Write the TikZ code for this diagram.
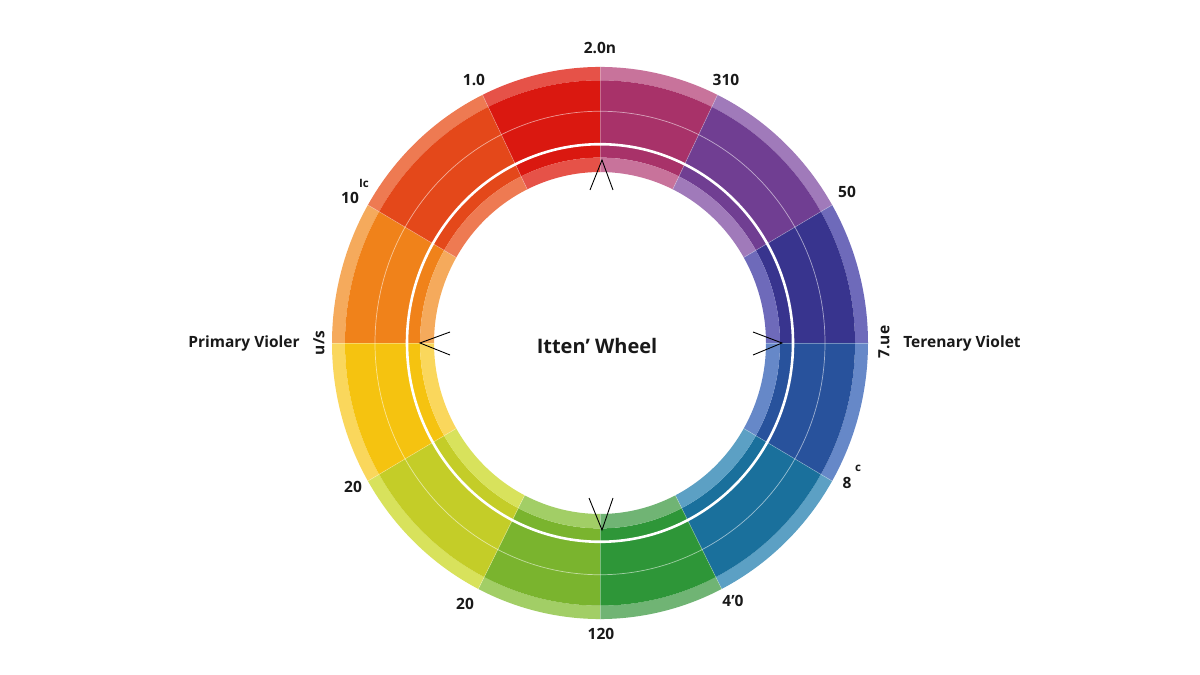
\documentclass[tikz,border=0pt]{standalone}
\usepackage{fontspec}
\setmainfont{Open Sans}
\begin{document}
\begin{tikzpicture}[x=1pt,y=1pt,
  lbl/.style={font=\bfseries\fontsize{15.5}{18}\selectfont, text=black!90, inner sep=0pt},
  sup/.style={font=\bfseries\fontsize{11.5}{13}\selectfont, text=black!90, inner sep=0pt},
  tick/.style={draw=black, line width=0.9pt, line join=miter}]
\definecolor{cRm}{RGB}{218,24,16}   \definecolor{cRl}{RGB}{230,82,72}
\definecolor{cMm}{RGB}{168,50,105}  \definecolor{cMl}{RGB}{200,115,155}
\definecolor{cPm}{RGB}{112,62,146}  \definecolor{cPl}{RGB}{160,122,186}
\definecolor{cVm}{RGB}{56,52,142}   \definecolor{cVl}{RGB}{110,106,186}
\definecolor{cBm}{RGB}{40,82,156}   \definecolor{cBl}{RGB}{102,136,200}
\definecolor{cCm}{RGB}{26,112,156}  \definecolor{cCl}{RGB}{92,160,196}
\definecolor{cGm}{RGB}{46,150,56}   \definecolor{cGl}{RGB}{112,180,116}
\definecolor{cYGm}{RGB}{122,180,46} \definecolor{cYGl}{RGB}{162,206,102}
\definecolor{cLm}{RGB}{196,205,40}  \definecolor{cLl}{RGB}{216,226,92}
\definecolor{cYm}{RGB}{245,195,16}  \definecolor{cYl}{RGB}{250,215,92}
\definecolor{cOm}{RGB}{240,130,26}  \definecolor{cOl}{RGB}{245,170,92}
\definecolor{cROm}{RGB}{228,72,26}  \definecolor{cROl}{RGB}{238,122,82}
\useasboundingbox (0,0) rectangle (1200,675);
\fill[white] (0,0) rectangle (1200,675);
\begin{scope}[shift={(600,332)}, yscale=1.03]
  \foreach \a/\b/\m/\l in {90/64/cMm/cMl, 64/30/cPm/cPl, 30/0/cVm/cVl, 0/-30/cBm/cBl,
      -30/-63/cCm/cCl, -63/-90/cGm/cGl, -90/-117/cYGm/cYGl, -117/-150/cLm/cLl,
      -150/-180/cYm/cYl, 180/150/cOm/cOl, 150/116/cROm/cROl, 116/90/cRm/cRl} {
    \fill[\l] (\a:268) arc[start angle=\a, end angle=\b, radius=268] -- (\b:255)
       arc[start angle=\b, end angle=\a, radius=255] -- cycle;
    \fill[\m] (\a:255) arc[start angle=\a, end angle=\b, radius=255] -- (\b:180)
       arc[start angle=\b, end angle=\a, radius=180] -- cycle;
    \fill[\l] (\a:180) arc[start angle=\a, end angle=\b, radius=180] -- (\b:166)
       arc[start angle=\b, end angle=\a, radius=166] -- cycle;
    \draw[white, opacity=0.35, line width=0.6pt] (\a:166) -- (\a:268);
  }
  \draw[white, opacity=0.55, line width=0.7pt] (0,0) circle[radius=225];
  \draw[white, line width=2.6pt] (0,0) circle[radius=193];
\end{scope}
% arrowheads
\draw[tick] (590,485) -- (602,515) -- (613,485);
\draw[tick] (450,343) -- (420,332) -- (450,320);
\draw[tick] (753,343) -- (782,332) -- (753,320);
\draw[tick] (589,177) -- (602,145) -- (613,177);
% labels
\node[lbl] (t0) at (600,627) {2.0n};
\node[lbl] (t1) at (474,595) {1.0};
\node[lbl] (t2) at (726,595) {310};
\node[lbl] (t3) at (350,477) {10};
\node[sup] (t3s) at (364,492) {Ic};
\node[lbl] (t4) at (847,483) {50};
\node[lbl] (t5) at (244,332) {Primary Violer};
\node[lbl, rotate=90] (t6) at (319,332) {u/s};
\node[lbl, rotate=90] (t7) at (884,333) {7.ue};
\node[lbl] (t8) at (962,332) {Terenary Violet};
\node[lbl] (t9) at (847,192) {8};
\node[sup] (t9s) at (858,207) {c};
\node[lbl] (t10) at (353,188) {20};
\node[lbl] (t11) at (465,71) {20};
\node[lbl] (t12) at (601,41) {120};
\node[lbl] (t13) at (733,74) {4'0};
\node[font=\bfseries\fontsize{20}{24}\selectfont, text=black!90] (ctr) at (597,329) {Itten' Wheel};
\end{tikzpicture}
\end{document}
